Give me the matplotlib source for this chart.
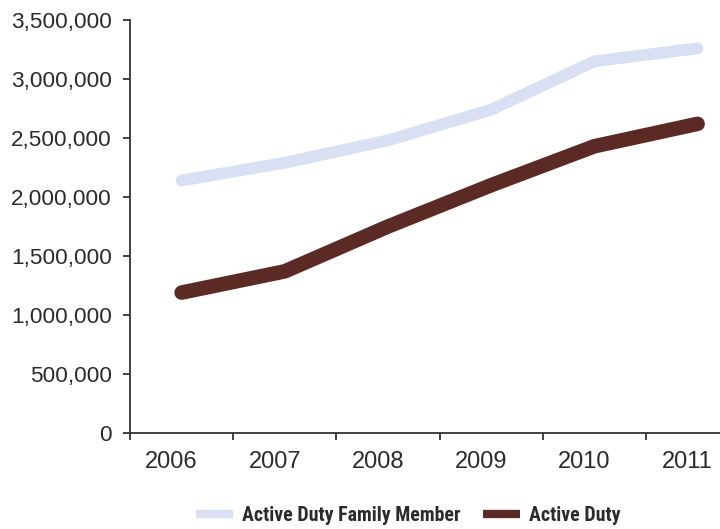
import matplotlib
matplotlib.use("Agg")
import matplotlib.pyplot as plt
from matplotlib.ticker import FuncFormatter, MultipleLocator, FixedLocator
from matplotlib.transforms import ScaledTranslation

# Beneficiaries by fiscal year
years = ["2006", "2007", "2008", "2009", "2010", "2011"]
family_members = [2140000, 2290000, 2480000, 2740000, 3150000, 3260000]
active_duty = [1190000, 1370000, 1750000, 2100000, 2430000, 2620000]

fig = plt.figure(figsize=(7.2, 5.29), dpi=100)
ax = fig.add_axes([130 / 720, 1 - 433 / 529, 1 - 130 / 720, (433 - 20) / 529])

x = range(len(years))
ax.plot(x, family_members, color="#d9e0f4", linewidth=8.5, solid_capstyle="round",
        label="Active Duty Family Member")
ax.plot(x, active_duty, color="#5c2a24", linewidth=10.5, solid_capstyle="round",
        label="Active Duty")

ax.set_ylim(0, 3500000)
ax.set_xlim(-0.5, -0.5 + (720 - 130) / 103.2)
ax.yaxis.set_major_locator(MultipleLocator(500000))
ax.yaxis.set_major_formatter(FuncFormatter(lambda v, p: f"{int(v):,}"))

# tick marks between categories, labels under each year
ax.xaxis.set_major_locator(FixedLocator([i - 0.5 for i in range(len(years) + 1)]))
ax.xaxis.set_major_formatter(FuncFormatter(lambda v, p: ""))
ax.xaxis.set_minor_locator(FixedLocator(list(x)))
ax.set_xticklabels(years, minor=True)

for side in ("top", "right"):
    ax.spines[side].set_visible(False)
for side in ("left", "bottom"):
    ax.spines[side].set_color("#333333")
    ax.spines[side].set_linewidth(1.3)

label_font = ["Liberation Sans", "DejaVu Sans"]
ax.tick_params(axis="y", direction="out", length=5, width=1.3, color="#333333",
               labelsize=16.2, labelcolor="#2b2b2b", pad=8)
ax.tick_params(axis="x", which="major", direction="out", length=5, width=1.3,
               color="#333333")
ax.tick_params(axis="x", which="minor", length=0, labelsize=17,
               labelcolor="#2b2b2b", pad=13)
for lbl in ax.get_yticklabels():
    lbl.set_family(label_font)
shift = ScaledTranslation(-0.1, 0, fig.dpi_scale_trans)
for lbl in ax.get_xticklabels(minor=True):
    lbl.set_family(label_font)
    lbl.set_transform(lbl.get_transform() + shift)

legend_font = ["Liberation Sans Narrow", "Roboto Condensed", "Noto Sans Condensed",
               "Liberation Sans"]
leg = fig.legend(loc="center", bbox_to_anchor=(0.567, 0.026), ncol=2, frameon=False,
                 handlelength=1.9, handletextpad=0.45, columnspacing=1.1,
                 prop={"family": legend_font, "weight": "bold", "size": 14.3})
for t in leg.get_texts():
    t.set_color("#2b2b2b")
for h in leg.get_lines():
    h.set_linewidth(6)
    h.set_solid_capstyle("butt")

fig.savefig("out.png", dpi=100)
